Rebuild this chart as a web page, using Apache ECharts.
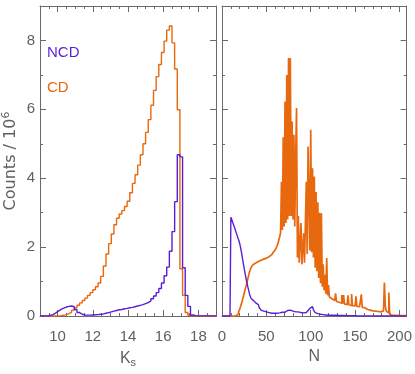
<!DOCTYPE html>
<html>
<head>
<meta charset="utf-8">
<script src="https://cdn.jsdelivr.net/npm/echarts@6/dist/echarts.min.js"></script>
<style>
  html, body { margin: 0; padding: 0; background: #fff; }
  #chart { width: 415px; height: 374px; }
</style>
</head>
<body>
<div id="chart"></div>
<script>
// Ks histograms (bins of 0.15 mag starting at Ks = 9), counts in 10^6
var ksStart = 9, ksBin = 0.15;
var cdKs = [0,0,0,0,0,0,0.005,0.01,0.02,0.04,
  0.07,0.11,0.17,0.24,0.31,0.38,0.45,0.52,0.6,0.68,
  0.76,0.85,0.96,1.15,1.45,1.8,2.1,2.38,2.65,2.84,
  2.96,3.06,3.18,3.33,3.58,3.85,4.1,4.38,4.68,5.0,
  5.33,5.7,6.12,6.55,6.95,7.3,7.65,7.98,8.3,8.42,
  7.93,7.17,5.99,1.37,0.6,0.1,0.02,0,0,0,
  0,0,0,0,0,0,0];
var ncdKs = [0,0,0.005,0.02,0.05,0.09,0.14,0.19,0.23,0.26,
  0.28,0.29,0.27,0.19,0.1,0.05,0.03,0.025,0.025,0.03,
  0.035,0.04,0.05,0.06,0.08,0.1,0.12,0.14,0.16,0.18,
  0.19,0.21,0.22,0.24,0.25,0.27,0.29,0.31,0.33,0.36,
  0.39,0.44,0.5,0.58,0.68,0.8,0.96,1.17,1.42,1.88,
  2.45,3.32,4.68,4.62,1.4,0.6,0.28,0.03,0.01,0.005,
  0.005,0.005,0.005,0.005,0.005,0.005,0.005];

// N histograms (bins of 1 starting at N = 0), counts in 10^6
var nStart = 0, nBin = 1;
var cdN = [0,0,0,0,0,0,0,0,0,0,
  0,0,0,0,0,0,0.01,0.04,0.08,0.14,
  0.2,0.28,0.37,0.46,0.56,0.66,0.76,0.86,0.96,1.07,
  1.18,1.28,1.36,1.42,1.46,1.49,1.52,1.54,1.55,1.57,
  1.58,1.59,1.6,1.62,1.63,1.64,1.65,1.66,1.67,1.68,
  1.7,1.71,1.72,1.74,1.76,1.78,1.8,1.83,1.86,1.89,
  1.92,1.97,2.03,2.1,2.2,2.3,2.42,3.9,2.5,5.19,
  2.6,6.23,2.7,7.0,2.8,7.49,2.9,7.49,2.9,5.65,
  2.8,5.26,2.6,4.63,6.04,1.7,2.9,1.55,1.5,2.7,
  1.5,1.5,2.4,1.55,1.6,3.9,1.8,4.92,4.94,1.9,
  5.41,1.85,4.29,1.7,4.05,1.4,3.6,1.3,3.3,1.1,
  3.0,0.95,2.98,0.85,1.5,0.75,1.2,0.65,1.68,0.6,
  0.9,0.55,0.52,0.5,0.48,0.46,0.45,0.44,0.66,0.42,
  0.41,0.4,0.39,0.38,0.37,0.61,0.36,0.61,0.35,0.34,
  0.33,0.33,0.6,0.32,0.31,0.31,0.64,0.3,0.3,0.29,
  0.29,0.57,0.28,0.28,0.27,0.27,0.26,0.63,0.25,0.25,
  0.24,0.22,0.2,0.19,0.18,0.17,0.17,0.16,0.16,0.15,
  0.15,0.15,0.14,0.14,0.14,0.13,0.13,0.13,0.12,0.12,
  0.13,0.15,0.2,0.97,0.3,0.15,0.1,0.08,0.68,0.05,
  0.03,0.02,0.02,0.02,0.02,0.02,0.02,0.02,0.02,0.02,
  0.01,0.01,0.01,0.01,0.01,0.01,0.01,0.01];
var ncdN = [0,0,0,0,0,0,0,0,0,0,
  2.87,2.8,2.72,2.65,2.58,2.5,2.42,2.34,2.26,2.19,
  2.1,1.98,1.84,1.68,1.53,1.38,1.24,1.1,0.98,0.86,
  0.75,0.64,0.56,0.5,0.46,0.44,0.42,0.41,0.38,0.36,
  0.33,0.3,0.24,0.2,0.17,0.16,0.14,0.12,0.14,0.12,
  0.11,0.13,0.1,0.09,0.1,0.08,0.1,0.09,0.08,0.09,
  0.08,0.08,0.09,0.08,0.09,0.1,0.09,0.11,0.1,0.12,
  0.11,0.13,0.14,0.16,0.17,0.18,0.17,0.15,0.13,0.14,
  0.12,0.14,0.12,0.13,0.11,0.12,0.1,0.11,0.1,0.09,
  0.1,0.09,0.1,0.11,0.1,0.12,0.13,0.16,0.18,0.22,
  0.26,0.27,0.24,0.18,0.14,0.1,0.08,0.07,0.06,0.06,
  0.05,0.05,0.04,0.04,0.04,0.03,0.03,0.03,0.03,0.02,
  0.02,0.02,0.02,0.02,0.02,0.02,0.02,0.02,0.02,0.02,
  0.015,0.015,0.015,0.015,0.015,0.015,0.015,0.015,0.015,0.015,
  0.01,0.01,0.01,0.01,0.01,0.01,0.01,0.01,0.01,0.01,
  0,0,0,0,0,0,0,0,0,0,
  0,0,0,0,0,0,0,0,0,0,
  0,0,0,0,0,0,0,0,0,0,
  0,0,0,0,0,0,0,0,0,0,
  0,0,0,0,0,0,0,0,0,0,
  0,0,0,0,0,0,0,0];

var ksTicks = [10, 12, 14, 16, 18];
var nTicks = [0, 50, 100, 150, 200];
var countTicks = [0, 2, 4, 6, 8];

var purple = '#5a1ed6';
var orange = '#e8680e';
var axisColor = '#6a6a6a';
var textColor = '#606060';
var sans = '"Liberation Sans", Arial, sans-serif';

initChart();

function toSteps(start, bin, values) {
  var pts = [];
  for (var i = 0; i < values.length; i++) {
    pts.push([start + i * bin, values[i]]);
  }
  pts.push([start + values.length * bin, values[values.length - 1]]);
  return pts;
}

// box axes in IDL style: major ticks + minor ticks on both sides, ticks inside
function boxAxes(dim, grid, min, max, ticks, minorStep, showLabels, name) {
  var sides = dim === 'x' ? ['bottom', 'top'] : ['left', 'right'];
  var list = [];
  sides.forEach(function (pos, k) {
    var ax = {
      type: 'value', gridIndex: grid, position: pos, min: min, max: max,
      axisLine: { show: true, onZero: false, lineStyle: { color: axisColor, width: 1 } },
      axisTick: { show: true, inside: true, length: 6, customValues: ticks, lineStyle: { color: axisColor } },
      axisLabel: {
        show: showLabels && k === 0, customValues: ticks,
        margin: dim === 'x' ? 13 : 5,
        color: textColor, fontSize: 15, fontFamily: sans
      },
      splitLine: { show: false }
    };
    if (k === 0 && name) {
      ax.name = name.text;
      ax.nameLocation = 'middle';
      ax.nameGap = name.gap;
      ax.nameTextStyle = name.style;
    }
    list.push(ax);
  });
  sides.forEach(function (pos) {
    list.push({
      type: 'value', gridIndex: grid, position: pos, min: min, max: max, interval: minorStep,
      axisLine: { show: false, onZero: false },
      axisTick: { show: true, inside: true, length: 3, lineStyle: { color: axisColor } },
      axisLabel: { show: false },
      splitLine: { show: false }
    });
  });
  return list;
}

function initChart() {
  var dom = document.getElementById('chart');
  var myChart = echarts.init(dom, null, { renderer: 'canvas' });

  var xAxes = []
    .concat(boxAxes('x', 0, 9, 19, ksTicks, 0.5, true, {
      text: 'K{sub|s}', gap: 31,
      style: { color: textColor, fontSize: 16, fontFamily: sans, lineHeight: 20,
        rich: { sub: { fontSize: 11, fontFamily: sans, color: textColor, verticalAlign: 'bottom', lineHeight: 12 } } }
    }))
    .concat(boxAxes('x', 1, 0, 208, nTicks, 10, true, {
      text: 'N', gap: 31,
      style: { color: textColor, fontSize: 16, fontFamily: sans }
    }));

  var yAxes = []
    .concat(boxAxes('y', 0, 0, 9, countTicks, 1, true, {
      text: 'Counts / 10{sup|6}', gap: 19,
      style: { color: textColor, fontSize: 16, fontFamily: 'DejaVu Sans', lineHeight: 20,
        rich: { sup: { fontSize: 11, fontFamily: 'DejaVu Sans', color: textColor, verticalAlign: 'top', lineHeight: 11 } } }
    }))
    .concat(boxAxes('y', 1, 0, 9, countTicks, 1, false, null));

  function stepSeries(data, color, xi, yi, width) {
    return {
      type: 'line', step: 'end', data: data, xAxisIndex: xi, yAxisIndex: yi,
      showSymbol: false, symbol: 'none', animation: false,
      lineStyle: { color: color, width: width }, itemStyle: { color: color }
    };
  }

  var option = {
    animation: false,
    grid: [
      { left: 38, top: 6, width: 178, height: 310 },
      { left: 222, top: 6, width: 185, height: 310 }
    ],
    xAxis: xAxes,
    yAxis: yAxes,
    graphic: [
      { type: 'text', left: 47, top: 45, style: { text: 'NCD', fill: purple, font: '15px ' + sans } },
      { type: 'text', left: 47, top: 80, style: { text: 'CD', fill: orange, font: '15px ' + sans } }
    ],
    series: [
      stepSeries(toSteps(ksStart, ksBin, cdKs), orange, 0, 0, 1.4),
      stepSeries(toSteps(ksStart, ksBin, ncdKs), purple, 0, 0, 1.4),
      stepSeries(toSteps(nStart, nBin, cdN), orange, 4, 4, 1.7),
      stepSeries(toSteps(nStart, nBin, ncdN), purple, 4, 4, 1.4)
    ]
  };

  myChart.setOption(option);
  window.addEventListener('resize', myChart.resize);
}
</script>
</body>
</html>
